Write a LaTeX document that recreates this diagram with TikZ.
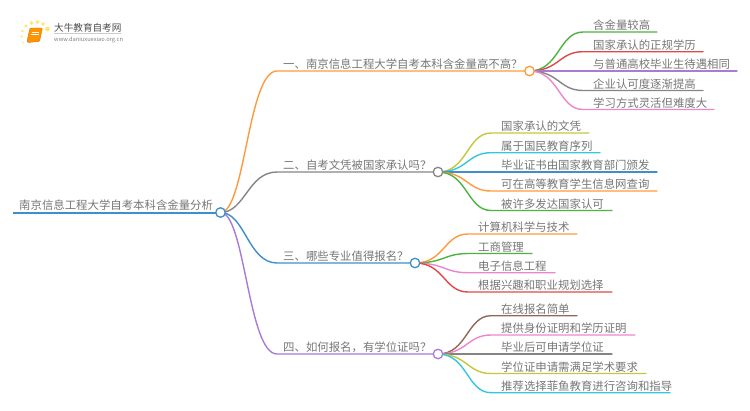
\documentclass[tikz,border=0pt]{standalone}
\usepackage{fontspec}
\setmainfont{Noto Sans CJK SC}
\usetikzlibrary{calc}
\definecolor{cOrange}{HTML}{FF9A3C}
\definecolor{cGreen}{HTML}{4DB340}
\definecolor{cRed}{HTML}{E04848}
\definecolor{cPurple}{HTML}{A87BD6}
\definecolor{cGray}{HTML}{858585}
\definecolor{cPink}{HTML}{EE85CC}
\definecolor{cOlive}{HTML}{C6C63E}
\definecolor{cCyan}{HTML}{33C8DE}
\definecolor{cBlue}{HTML}{3E8FCC}
\definecolor{cBrown}{HTML}{96655A}
\definecolor{cText}{HTML}{767676}
\tikzset{
  label/.style={anchor=base west,inner sep=0pt,text=cText,font=\fontsize{11.4}{13}\selectfont},
  hub/.style={circle,draw=#1,fill=white,line width=1.3pt,minimum size=9.5pt,inner sep=0pt},
  wire/.style={draw=#1,line width=1.4pt,line cap=round},
  toproot/.style={draw=#1,line width=2pt}
}
% \leafitem{name}{hub}{color}{flat-start x}{end x}{y}{text x}{text}
\newcommand{\leafitem}[8]{%
  \coordinate (#1s) at (#4,#6);
  \coordinate (#1e) at (#5,#6);
  \coordinate (#1m) at ($(#2.east)!0.5!(#1s)$);
  \node[label] (#1) at (#7,#6-2.3) {#8};
  \draw[wire=#3] (#2.center) .. controls (#1m |- #2.center) and (#1m |- #1s) .. (#1s) -- (#1e);
}
\begin{document}
\begin{tikzpicture}[x=1pt,y=-1pt]
\useasboundingbox (0,0) rectangle (750,410);
\coordinate (rootP) at (220.5,212.5);
\coordinate (h1P) at (529.5,71);
\coordinate (h2P) at (438,172);
\coordinate (h3P) at (415,263);
\coordinate (h4P) at (438,354);
\node[hub=cBlue,draw=none,fill=none] (root) at (rootP) {};
\node[hub=cOrange,draw=none,fill=none] (h1) at (h1P) {};
\node[hub=cGray,draw=none,fill=none] (h2) at (h2P) {};
\node[hub=cBlue,draw=none,fill=none] (h3) at (h3P) {};
\node[hub=cPurple,draw=none,fill=none] (h4) at (h4P) {};
\coordinate (rootL) at (13,212.5);
\node[label] (rootT) at (19,209.2) {南京信息工程大学自考本科含金量分析};
\draw[toproot=cBlue] (rootL) -- (root.center);
\draw[wire=cOrange] (root.center) .. controls (245,212.5) and (248,71) .. (277,71) -- (h1.center);
\draw[wire=cGray] (root.center) .. controls (245,212.5) and (248,172) .. (277,172) -- (h2.center);
\draw[wire=cBlue] (root.center) .. controls (245,212.5) and (248,263) .. (277,263) -- (h3.center);
\draw[wire=cPurple] (root.center) .. controls (245,212.5) and (248,354) .. (277,354) -- (h4.center);
\node[label] (b1) at (283,68.7) {一、南京信息工程大学自考本科含金量高不高？};
\node[label] (b2) at (283,169.7) {二、自考文凭被国家承认吗？};
\node[label] (b3) at (283,260.7) {三、哪些专业值得报名？};
\node[label] (b4) at (283,351.7) {四、如何报名，有学位证吗？};
\leafitem{a1}{h1}{cGreen}{583}{657}{32}{593}{含金量较高}
\leafitem{a2}{h1}{cRed}{583}{703}{51.7}{593}{国家承认的正规学历}
\leafitem{a3}{h1}{cPurple}{583}{737}{71}{593}{与普通高校毕业生待遇相同}
\leafitem{a4}{h1}{cGray}{583}{703}{90.5}{593}{企业认可度逐渐提高}
\leafitem{a5}{h1}{cPink}{583}{714}{109.5}{593}{学习方式灵活但难度大}
\leafitem{c1}{h2}{cOlive}{491}{589}{133}{501}{国家承认的文凭}
\leafitem{c2}{h2}{cCyan}{491}{600}{152.7}{501}{属于国民教育序列}
\leafitem{c3}{h2}{cBlue}{491}{657}{172}{501}{毕业证书由国家教育部门颁发}
\leafitem{c4}{h2}{cOrange}{491}{657}{191}{501}{可在高等教育学生信息网查询}
\leafitem{c5}{h2}{cGreen}{491}{612}{210.5}{501}{被许多发达国家认可}
\leafitem{d1}{h3}{cOrange}{468}{577}{234}{478}{计算机科学与技术}
\leafitem{d2}{h3}{cGreen}{468}{532}{253.5}{478}{工商管理}
\leafitem{d3}{h3}{cPink}{468}{555}{272.7}{478}{电子信息工程}
\leafitem{d4}{h3}{cRed}{468}{612}{292}{478}{根据兴趣和职业规划选择}
\leafitem{f1}{h4}{cBrown}{491}{577}{315.7}{501}{在线报名简单}
\leafitem{f2}{h4}{cPink}{491}{635}{335}{501}{提供身份证明和学历证明}
\leafitem{f3}{h4}{cGray}{491}{612}{354}{501}{毕业后可申请学位证}
\leafitem{f4}{h4}{cOlive}{491}{646}{373.5}{501}{学位证申请需满足学术要求}
\leafitem{f5}{h4}{cCyan}{491}{670}{392.7}{501}{推荐选择菲鱼教育进行咨询和指导}
\node[hub=cBlue] at (rootP) {};
\node[hub=cOrange] at (h1P) {};
\node[hub=cGray] at (h2P) {};
\node[hub=cBlue] at (h3P) {};
\node[hub=cPurple] at (h4P) {};
\node[anchor=base west,inner sep=0pt,text=black!70,font=\fontsize{9.6}{11}\selectfont] (logoT) at (54,31) {大牛教育自考网};
\node[anchor=base west,inner sep=0pt,text=black!50,font=\fontsize{5.7}{7}\selectfont] (logoU) at (54,41) {www.daniuxuexiao.org.cn};
\draw[black!20,line width=.5pt] (54,33.2) -- (121,33.2);
\foreach \x/\y/\r in {47.5/29/2.3,43/24/1.9,37.5/22/1.9,31.5/23/1.8,26/26/1.6,22.5/31/1.3,21.5/36.5/1.1,23/42.5/.8}
  \fill[yellow!75!orange!60] (\x,\y) circle (\r);
\path[fill=orange!85!yellow,draw=orange!80!black,line width=.3pt,rounded corners=1pt] (30,28) -- (42.5,28) -- (39.5,41.5) -- (28,42.5) -- (27,41) -- cycle;
\draw[white,line width=.6pt] (31.5,32) -- (39,32) (31,34) -- (38.5,34);
\end{tikzpicture}
\end{document}
